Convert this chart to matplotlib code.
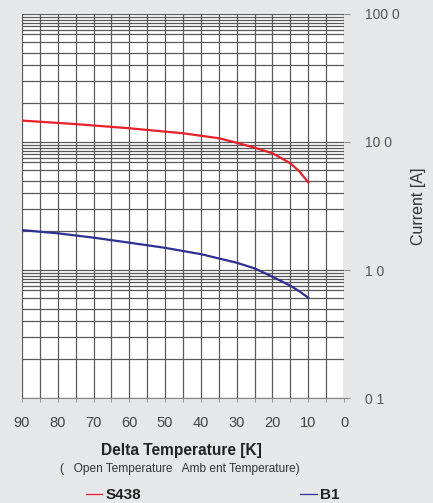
import numpy as np
import matplotlib.pyplot as plt
from matplotlib.ticker import FixedLocator, NullFormatter

# values
s438_dt = [90, 75, 60, 45, 35, 30, 25, 20, 15, 12.5, 10]
s438_amp = [14.7, 13.8, 12.8, 11.7, 10.7, 9.87, 9.03, 8.17, 6.82, 5.9, 4.84]
b1_dt = [90, 80, 70, 60, 50, 40, 30, 25, 20, 15, 12.5, 10]
b1_amp = [2.05, 1.935, 1.79, 1.635, 1.49, 1.33, 1.14, 1.03, 0.886, 0.754, 0.682, 0.608]

xticks = [90, 80, 70, 60, 50, 40, 30, 20, 10, 0]
yticks = [0.1, 1.0, 10.0, 100.0]
ylabels = ['0 1', '1 0', '10 0', '100 0']
grid_steps = [2, 3, 4, 5, 6, 7, 7.5, 8, 8.5, 9, 9.5]

bg = '#e6e7e8'
plt.rcParams['font.family'] = ['Liberation Sans', 'DejaVu Sans']

fig = plt.figure(figsize=(4.33, 5.03), dpi=100, facecolor=bg)
ax = fig.add_axes([0.0508, 0.2087, 0.7437, 0.7635])
ax.set_facecolor('white')

ax.set_yscale('log')
ax.set_xlim(90, 0)
ax.set_ylim(0.1, 100)

# minor horizontal grid lines inside each decade
minors = []
for dec in [0.1, 1.0, 10.0]:
    for s in grid_steps:
        minors.append(dec * s)
ax.yaxis.set_major_locator(FixedLocator(yticks))
ax.yaxis.set_minor_locator(FixedLocator(minors))
ax.yaxis.set_minor_formatter(NullFormatter())
ax.set_yticklabels(ylabels)
ax.yaxis.tick_right()
ax.yaxis.set_label_position('right')

ax.xaxis.set_major_locator(FixedLocator(xticks))
ax.xaxis.set_minor_locator(FixedLocator(np.arange(5, 90, 10)))

ax.grid(which='both', axis='both', color='#5a5a5a', linewidth=0.9)
ax.set_axisbelow(True)

ax.tick_params(which='major', axis='y', length=4, width=0.8, color='#888888',
               labelsize=10, labelcolor='#555555', pad=11)
ax.tick_params(which='minor', axis='y', length=0)
ax.tick_params(which='both', axis='x', length=3, width=0.6, color='#888888',
               labelsize=10.5, labelcolor='#444444', pad=10)

for side in ['top', 'left', 'right']:
    ax.spines[side].set_visible(False)
ax.spines['bottom'].set_color('#888888')
ax.spines['bottom'].set_linewidth(0.8)

ax.plot(s438_dt, s438_amp, color='#e8202a', linewidth=1.6, label='S438')
ax.plot(b1_dt, b1_amp, color='#2e3192', linewidth=1.6, label='B1')

ax.set_ylabel('Current [A]', fontsize=11.5, color='#333333', labelpad=8)

fig.text(0.42, 0.105, 'Delta Temperature [K]', ha='center', va='center',
         fontsize=11.2, fontweight='bold', color='#222222')
fig.text(0.415, 0.067, '(   Open Temperature   Amb ent Temperature)', ha='center',
         va='center', fontsize=8.6, color='#333333')

# legend drawn as two separate entries along the bottom
fig.lines.append(plt.Line2D([0.198, 0.236], [0.018, 0.018], color='#e8202a',
                            linewidth=0.9, transform=fig.transFigure))
fig.text(0.245, 0.016, 'S438', ha='left', va='center', fontsize=11,
         fontweight='bold', color='#222222')
fig.lines.append(plt.Line2D([0.693, 0.732], [0.018, 0.018], color='#2e3192',
                            linewidth=0.9, transform=fig.transFigure))
fig.text(0.738, 0.016, 'B1', ha='left', va='center', fontsize=11,
         fontweight='bold', color='#222222')

plt.savefig('out.png', dpi=100, facecolor=bg)
